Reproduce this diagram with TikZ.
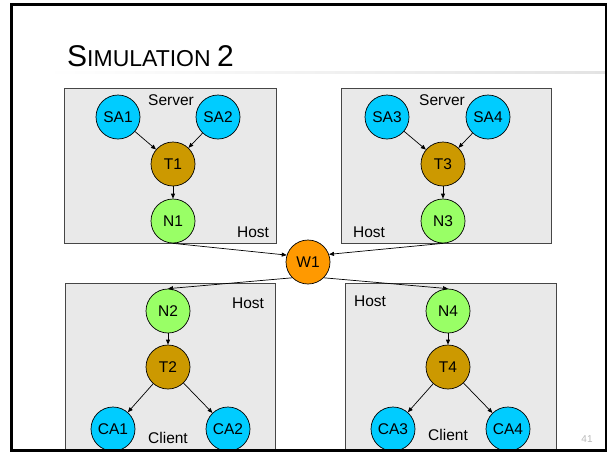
\documentclass[tikz,border=0pt]{standalone}
\usepackage{fontspec}
\setmainfont{Liberation Sans}
\usetikzlibrary{arrows.meta, positioning}
\definecolor{agentblue}{RGB}{0,204,255}
\definecolor{tbrown}{RGB}{204,153,0}
\definecolor{ngreen}{RGB}{153,255,102}
\definecolor{worange}{RGB}{255,153,0}
\definecolor{boxfill}{RGB}{233,233,233}
\definecolor{boxline}{RGB}{70,70,70}
\tikzstyle{agent}=[circle, draw=black, line width=0.7pt, fill=agentblue,
  minimum size=44pt, inner sep=0pt, font=\fontsize{15.5}{17}\selectfont]
\tikzstyle{tnode}=[agent, fill=tbrown]
\tikzstyle{nnode}=[agent, fill=ngreen]
\tikzstyle{wnode}=[agent, fill=worange]
\tikzstyle{hostbox}=[draw=boxline, line width=0.8pt, fill=boxfill]
\tikzstyle{lbl}=[font=\fontsize{15.5}{17}\selectfont, inner sep=0pt]
\tikzstyle{carr}=[-{Triangle[length=5pt, width=4pt]}, line width=0.7pt]

\begin{document}
\begin{tikzpicture}[x=1pt, y=-1pt]
  \useasboundingbox (0,0) rectangle (610,453);
  % title and rule
  \node[anchor=base west, inner sep=0pt] (title) at (67,66)
    {\fontsize{30}{32}\selectfont S\fontsize{23}{25}\selectfont IMULATION
     \fontsize{30}{32}\selectfont 2};
  \shade[left color=white, right color=gray!22] (45,71) rectangle (606,73);

  % host boxes
  \draw[hostbox] (64,88) rectangle (276,243);
  \draw[hostbox] (341,88) rectangle (551,243);
  \draw[hostbox] (65,283) rectangle (275,451);
  \draw[hostbox] (345,283) rectangle (556,451);

  % server side
  \node[lbl] (srv1) at (171,100) {Server};
  \node[lbl] (hst1) at (253,232) {Host};
  \node[agent] (sa1) at (118,117) {SA1};
  \node[agent] (sa2) at (218,117) {SA2};
  \node[tnode] (t1) at (173,164) {T1};
  \node[nnode] (n1) at (173,221) {N1};

  \node[lbl] (srv2) at (442,100) {Server};
  \node[lbl] (hst3) at (369,232) {Host};
  \node[agent] (sa3) at (387,117) {SA3};
  \node[agent] (sa4) at (488,117) {SA4};
  \node[tnode] (t3) at (443,164) {T3};
  \node[nnode] (n3) at (443,221) {N3};

  % wire
  \node[wnode] (w1) at (308,262) {W1};

  % client side
  \node[lbl] (hst2) at (248,303) {Host};
  \node[lbl] (cli1) at (168,438) {Client};
  \node[nnode] (n2) at (168,311) {N2};
  \node[tnode] (t2) at (168,367) {T2};
  \node[agent] (ca1) at (113,429) {CA1};
  \node[agent] (ca2) at (228,429) {CA2};

  \node[lbl] (hst4) at (370,301) {Host};
  \node[lbl] (cli2) at (448,435) {Client};
  \node[nnode] (n4) at (448,311) {N4};
  \node[tnode] (t4) at (448,367) {T4};
  \node[agent] (ca3) at (393,429) {CA3};
  \node[agent] (ca4) at (508,429) {CA4};

  \draw[carr] (sa1)--(t1);
  \draw[carr] (sa2)--(t1);
  \draw[carr] (t1)--(n1);
  \draw[carr] (sa3)--(t3);
  \draw[carr] (sa4)--(t3);
  \draw[carr] (t3)--(n3);
  \draw[carr] (n1.south)--(w1.162);
  \draw[carr] (n3.south)--(w1.20);
  \draw[carr] (w1.225)--(n2.north);
  \draw[carr] (w1.315)--(n4.north);
  \draw[carr] (n2)--(t2);
  \draw[carr] (t2)--(ca1);
  \draw[carr] (t2)--(ca2);
  \draw[carr] (n4)--(t4);
  \draw[carr] (t4)--(ca3);
  \draw[carr] (t4)--(ca4);

  \node[font=\fontsize{10}{12}\selectfont, text=gray!55] (pg) at (587,439) {41};

  % slide frame
  \draw[line width=2.5pt] (11.5,4.5) rectangle (606,450.5);
\end{tikzpicture}
\end{document}
